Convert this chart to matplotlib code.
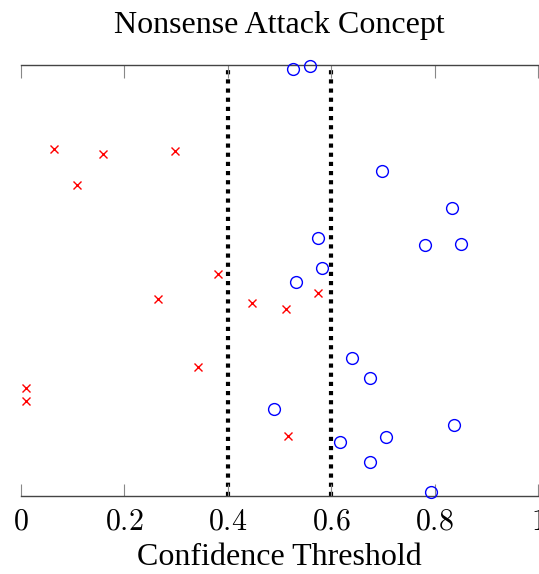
import matplotlib
matplotlib.use("Agg")
import matplotlib.pyplot as plt

title = "Nonsense Attack Concept"
xlabel = "Confidence Threshold"
xticks = [0, 0.2, 0.4, 0.6, 0.8, 1]
xticklabels = ["0", "0.2", "0.4", "0.6", "0.8", "1"]
thresholds = [0.4, 0.6]

red_x = [0.065, 0.159, 0.299, 0.109, 0.381, 0.266, 0.446, 0.512, 0.575, 0.343, 0.010, 0.010, 0.516]
red_y = [0.806, 0.793, 0.800, 0.721, 0.514, 0.458, 0.448, 0.434, 0.471, 0.300, 0.251, 0.220, 0.139]

blue_x = [0.527, 0.559, 0.698, 0.833, 0.575, 0.781, 0.851, 0.582, 0.531, 0.640, 0.674, 0.489,
          0.838, 0.706, 0.617, 0.675, 0.793]
blue_y = [0.991, 0.998, 0.754, 0.668, 0.599, 0.582, 0.584, 0.530, 0.497, 0.321, 0.274, 0.202,
          0.165, 0.138, 0.125, 0.079, 0.010]

plt.rcParams['font.family'] = ['Liberation Serif', 'DejaVu Serif']
plt.rcParams['mathtext.fontset'] = 'cm'

fig = plt.figure(figsize=(5.39, 5.74), dpi=100)
ax = fig.add_axes([0.0384, 0.1359, 0.9603, 0.7509])

for t in thresholds:
    ax.axvline(t, color='black', linewidth=3.0, linestyle=(0, (1, 1.2)), zorder=1)

ax.plot(red_x, red_y, linestyle='none', marker='x', color='red', markersize=6,
        markeredgewidth=1.0, zorder=3, clip_on=False)
ax.plot(blue_x, blue_y, linestyle='none', marker='o', markerfacecolor='none',
        markeredgecolor='blue', markersize=8.5, markeredgewidth=1.0, zorder=3, clip_on=False)

ax.set_xlim(0, 1)
ax.set_ylim(0, 1)
ax.set_xticks(xticks)
ax.set_xticklabels(["$" + s + "$" for s in xticklabels])
ax.set_yticks([])
ax.spines['left'].set_visible(False)
ax.spines['right'].set_visible(False)
for s in ['top', 'bottom']:
    ax.spines[s].set_color('#444444')
    ax.spines[s].set_linewidth(1.0)
ax.tick_params(axis='x', direction='in', top=True, bottom=True, length=9, width=0.8,
               color='#888888', labelsize=21.5, pad=10)
ax.set_xlabel(xlabel, fontsize=23, labelpad=5)
ax.set_title(title, fontsize=23, pad=23)

fig.savefig("out.png", dpi=100)
